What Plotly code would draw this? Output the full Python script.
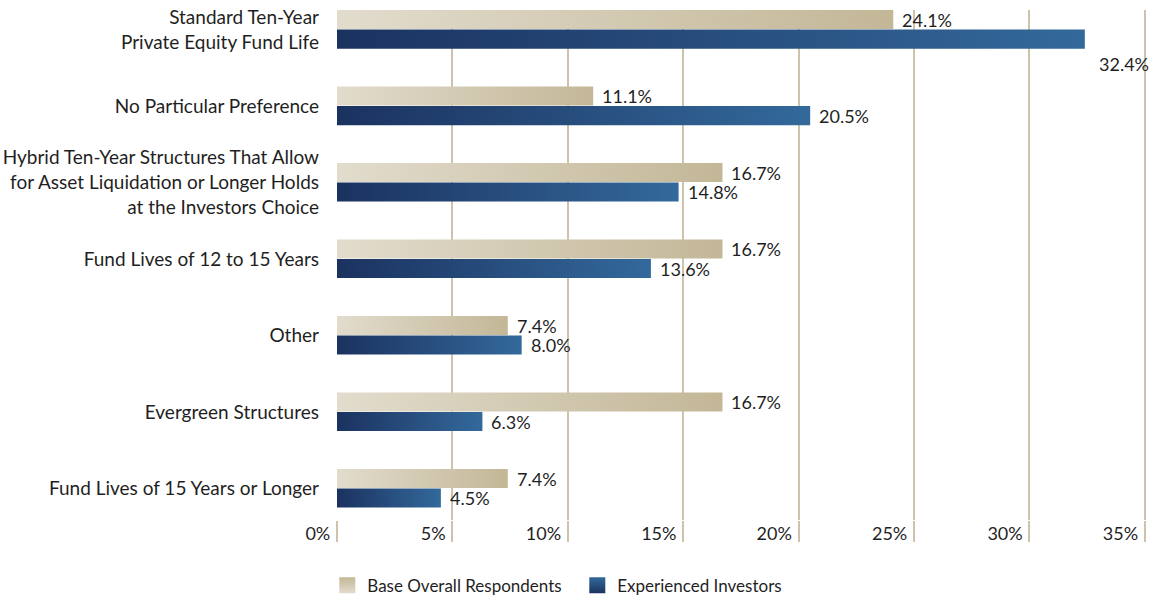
import plotly.graph_objects as go

# ---- data -------------------------------------------------------------
categories = [
    "Standard Ten-Year<br>Private Equity Fund Life",
    "No Particular Preference",
    "Hybrid Ten-Year Structures That Allow<br>for Asset Liquidation or Longer Holds<br>at the Investors Choice",
    "Fund Lives of 12 to 15 Years",
    "Other",
    "Evergreen Structures",
    "Fund Lives of 15 Years or Longer",
]
base_overall = [24.1, 11.1, 16.7, 16.7, 7.4, 16.7, 7.4]
experienced = [32.4, 20.5, 14.8, 13.6, 8.0, 6.3, 4.5]
series_names = ["Base Overall Respondents", "Experienced Investors"]
x_tick_values = [0, 5, 10, 15, 20, 25, 30, 35]
x_tick_labels = ["0%", "5%", "10%", "15%", "20%", "25%", "30%", "35%"]

# ---- style ------------------------------------------------------------
FONT = "Lato"
TEXT = "#1f1f1f"
GRID = "#cdc2aa"
BEIGE = ("#e2dccd", "#c3b797")
BLUE = ("#1b3260", "#33699b")
BAR_H = 0.25
OFFSETS = (-0.255, 0.0)          # top edge of each series' bar, relative to category centre

fig = go.Figure()


def add_bars(values, offset, colors, label_shift):
    for i, v in enumerate(values):
        y0 = i + offset
        y1 = y0 + BAR_H
        fig.add_trace(go.Scatter(
            x=[0, v, v, 0, 0],
            y=[y0, y0, y1, y1, y0],
            mode="lines",
            line=dict(width=0),
            fill="toself",
            fillgradient=dict(type="horizontal",
                              colorscale=[[0, colors[0]], [1, colors[1]]]),
            hoverinfo="skip",
            showlegend=False,
        ))
        dx, dy = label_shift.get(i, (7, 0))
        fig.add_annotation(
            x=v, y=(y0 + y1) / 2, text=f"{v:.1f}%",
            xanchor="left", yanchor="middle", showarrow=False,
            xshift=dx, yshift=dy,
            font=dict(family=FONT, size=18, color=TEXT),
        )


add_bars(base_overall, OFFSETS[0], BEIGE, {})
add_bars(experienced, OFFSETS[1], BLUE, {0: (12, -25)})

# legend swatches
fig.add_trace(go.Scatter(
    x=[None], y=[None], mode="markers", name=series_names[0],
    marker=dict(symbol="square", size=16, color=BEIGE[1],
                gradient=dict(type="vertical", color=BEIGE[0])),
))
fig.add_trace(go.Scatter(
    x=[None], y=[None], mode="markers", name=series_names[1],
    marker=dict(symbol="square", size=16, color=BLUE[1],
                gradient=dict(type="vertical", color=BLUE[0])),
))

fig.update_layout(
    width=1151, height=597,
    margin=dict(l=337, r=5, t=10, b=77, autoexpand=False),
    paper_bgcolor="white", plot_bgcolor="white",
    font=dict(family=FONT, size=18, color=TEXT),
    showlegend=True,
    legend=dict(
        orientation="h", x=-0.012, xanchor="left",
        y=-0.129, yanchor="middle", entrywidth=205,
        font=dict(family=FONT, size=17, color=TEXT),
        itemclick=False, itemdoubleclick=False,
    ),
    xaxis=dict(
        range=[0, 35.05], tickvals=x_tick_values, ticktext=x_tick_labels,
        showgrid=True, gridcolor=GRID, gridwidth=1.5,
        zeroline=False, showline=False,
        ticks="outside", ticklen=21, tickcolor=GRID, tickwidth=1.5,
        ticklabelposition="outside left", ticklabelstandoff=-3,
        ticklabelshift=-6,
        tickfont=dict(family=FONT, size=18, color=TEXT),
        fixedrange=True,
    ),
    yaxis=dict(
        range=[6.412, -0.255], tickvals=list(range(len(categories))),
        ticktext=categories, showgrid=False, zeroline=False,
        showline=False, ticks="", ticklabelstandoff=17,
        tickfont=dict(family=FONT, size=19, color=TEXT),
        fixedrange=True,
    ),
)

fig.write_html("out.html")
